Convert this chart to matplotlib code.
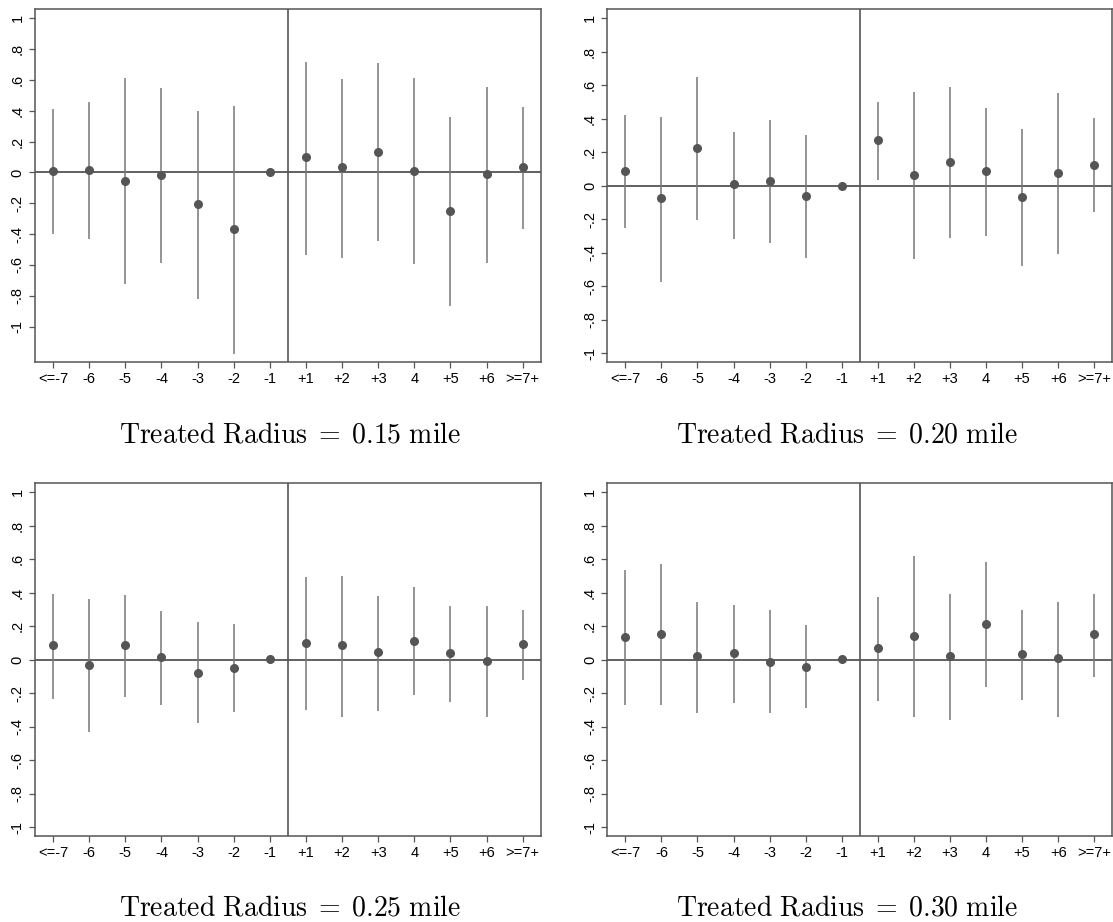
import numpy as np
import matplotlib
matplotlib.use("Agg")
import matplotlib.pyplot as plt

plt.rcParams["font.family"] = ["Liberation Sans", "DejaVu Sans"]
plt.rcParams["mathtext.fontset"] = "cm"

W, H = 1113, 922

event_labels = ["<=-7", "-6", "-5", "-4", "-3", "-2", "-1",
                "+1", "+2", "+3", "4", "+5", "+6", ">=7+"]

# radius 0.15 mile
coef_015 = [0.01, 0.015, -0.055, -0.018, -0.206, -0.368, 0.0,
            0.097, 0.032, 0.134, 0.01, -0.253, -0.011, 0.036]
hi_015 = [0.41, 0.46, 0.61, 0.545, 0.40, 0.43, np.nan,
          0.718, 0.604, 0.708, 0.61, 0.357, 0.552, 0.424]
lo_015 = [-0.40, -0.43, -0.725, -0.59, -0.82, -1.175, np.nan,
          -0.537, -0.554, -0.444, -0.597, -0.868, -0.587, -0.366]

# radius 0.20 mile
coef_020 = [0.088, -0.076, 0.227, 0.008, 0.03, -0.062, 0.0,
            0.271, 0.064, 0.143, 0.086, -0.068, 0.078, 0.125]
hi_020 = [0.422, 0.412, 0.649, 0.322, 0.39, 0.30, np.nan,
          0.497, 0.557, 0.589, 0.464, 0.338, 0.553, 0.404]
lo_020 = [-0.255, -0.572, -0.205, -0.318, -0.34, -0.43, np.nan,
          0.034, -0.438, -0.31, -0.302, -0.478, -0.41, -0.157]

# radius 0.25 mile
coef_025 = [0.088, -0.03, 0.088, 0.018, -0.076, -0.05, 0.004,
            0.103, 0.088, 0.044, 0.113, 0.038, -0.006, 0.092]
hi_025 = [0.396, 0.364, 0.386, 0.289, 0.225, 0.211, np.nan,
          0.496, 0.502, 0.384, 0.432, 0.32, 0.32, 0.298]
lo_025 = [-0.233, -0.43, -0.221, -0.267, -0.378, -0.314, np.nan,
          -0.299, -0.34, -0.304, -0.211, -0.251, -0.34, -0.123]

# radius 0.30 mile
coef_030 = [0.139, 0.157, 0.022, 0.04, -0.01, -0.04, 0.004,
            0.07, 0.143, 0.022, 0.215, 0.036, 0.008, 0.153]
hi_030 = [0.535, 0.571, 0.348, 0.33, 0.296, 0.207, np.nan,
          0.374, 0.619, 0.394, 0.587, 0.30, 0.344, 0.396]
lo_030 = [-0.267, -0.269, -0.316, -0.257, -0.32, -0.29, np.nan,
          -0.243, -0.342, -0.358, -0.165, -0.237, -0.34, -0.101]

ytick_vals = [-1, -0.8, -0.6, -0.4, -0.2, 0, 0.2, 0.4, 0.6, 0.8, 1]
ytick_labels = ["-1", "-.8", "-.6", "-.4", "-.2", "0", ".2", ".4", ".6", ".8", "1"]

panels = [
    ("0.15", coef_015, lo_015, hi_015, (35, 362, 540.7), (-1.23, 1.057), (290, 435)),
    ("0.20", coef_020, lo_020, hi_020, (607.3, 361.7, 1112.3), (-1.05, 1.053), (847, 435)),
    ("0.25", coef_025, lo_025, hi_025, (35, 836, 540.7), (-1.052, 1.053), (290, 908)),
    ("0.30", coef_030, lo_030, hi_030, (607.3, 836, 1112.3), (-1.052, 1.053), (847, 908)),
]

fig = plt.figure(figsize=(W / 100, H / 100), dpi=100)
x = np.arange(1, len(event_labels) + 1)
axis_color = "#555555"

for radius, coef, lo, hi, (left, bottom, right), ylim, (tx, ty) in panels:
    ax = fig.add_axes([left / W, 1 - bottom / H, (right - left) / W, 352.5 / H])
    ax.vlines(x, lo, hi, color="#777777", linewidth=1.1, zorder=2)
    ax.axhline(0, color=axis_color, linewidth=1.3, zorder=1)
    ax.axvline(7.5, color=axis_color, linewidth=1.2, zorder=1)
    ax.plot(x, coef, "o", color="#555555", markersize=5.5, zorder=3)

    ax.set_xlim(0.5, 14.5)
    ax.set_ylim(*ylim)
    ax.set_xticks(x)
    ax.set_xticklabels(event_labels, fontsize=10.5)
    ax.set_yticks(ytick_vals)
    ax.set_yticklabels(ytick_labels, fontsize=10.5, rotation=90, va="center")
    ax.tick_params(axis="both", length=4.5, width=0.9, color=axis_color, pad=3)
    for spine in ax.spines.values():
        spine.set_color(axis_color)
        spine.set_linewidth(1.1)

    fig.text(tx / W, 1 - ty / H,
             r"$\mathrm{Treated\ Radius}\;=\;" + radius + r"\ \mathrm{mile}$",
             ha="center", va="center", fontsize=20)

fig.savefig("out.png", dpi=100)
